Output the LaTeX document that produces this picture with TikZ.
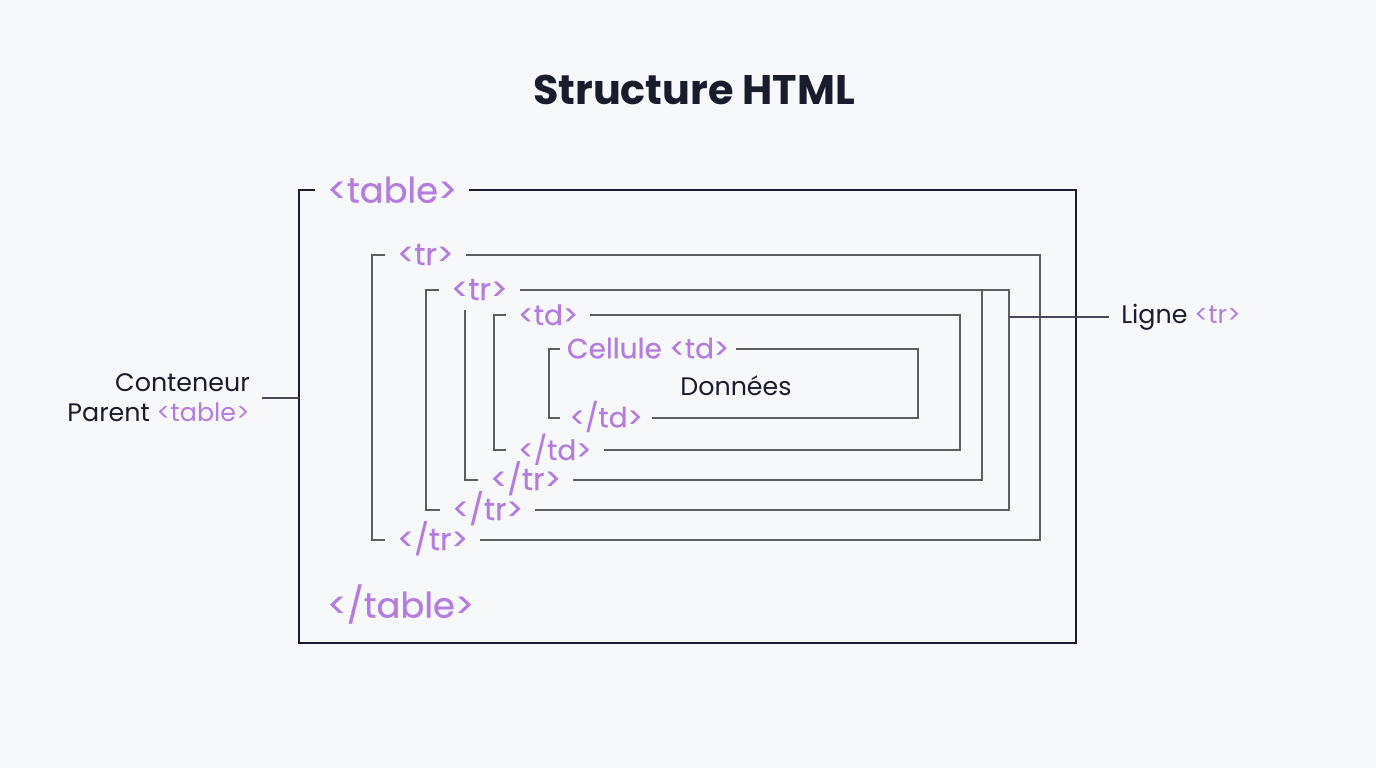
\documentclass[tikz,border=0pt]{standalone}
\usepackage{fontspec}
\setmainfont{Poppins}
\newfontfamily\tagfont[FakeBold=0.5]{Poppins}
\usetikzlibrary{positioning}

\definecolor{pagebg}{RGB}{247,248,249}
\definecolor{inkdark}{RGB}{24,28,44}
\definecolor{tagpurple}{RGB}{180,124,222}
\definecolor{framegray}{RGB}{92,94,100}

\tikzset{
  tag/.style={text=tagpurple, font=\tagfont\fontsize{21}{24}\selectfont, anchor=west,
    inner xsep=9pt, inner ysep=0pt, text height=15pt, text depth=0pt},
  trtag/.style={tag, font=\tagfont\fontsize{23}{26}\selectfont},
  bigtag/.style={tag, font=\tagfont\fontsize{26.5}{30}\selectfont, text height=19pt},
  plain/.style={text=inkdark, font=\fontsize{19}{22.5}\selectfont},
  frame/.style={draw=framegray, line width=0.9pt},
  outerframe/.style={draw=inkdark, line width=1.5pt},
}

\begin{document}
\begin{tikzpicture}[x=0.75pt,y=0.75pt,yscale=-1,xscale=1]
%background, fixes the page size
\fill [pagebg] (0,0) rectangle (1376,768);

% Title
\node [text=inkdark, font=\fontsize{31}{36}\selectfont\bfseries] (title) at (694,90) {Structure HTML};

% Text Nodes (tags)
\node [bigtag] (tabO) at (315,190) {<table>};
\node [bigtag] (tabC) at (315,605) {</table>};
\node [trtag] (trAO) at (385,255) {<tr>};
\node [trtag] (trAC) at (385,540) {</tr>};
\node [trtag] (trBO) at (439,290) {<tr>};
\node [trtag] (trBC) at (440,510) {</tr>};
\node [trtag] (trCC) at (478,480) {</tr>};
\node [tag] (tdAO) at (506,315) {<td>};
\node [tag] (tdAC) at (506,450) {</td>};
\node [tag, inner xsep=5pt, text height=14pt] (cellO) at (560,349) {Cellule <td>};
\node [tag, inner xsep=7pt, text height=14pt] (cellC) at (560,418) {</td>};

% Text Node
\node [plain] (data) at (736,386) {Données};
\node [plain, anchor=east, align=right, inner xsep=9pt] (parent) at (262,398)
  {Conteneur\\Parent \textcolor{tagpurple}{<table>}};
\node [plain, anchor=west, inner xsep=9pt] (ligne) at (1109,317)
  {Ligne \textcolor{tagpurple}{<tr>}};

%Outer frame <table>
\draw [outerframe] (tabO.east) -- (1076,190) -- (1076,643) -- (299,643) -- (299,190) -- (tabO.west);
%Frame <tr> 1
\draw [frame] (trAO.east) -- (1040,255) -- (1040,540) -- (trAC.east);
\draw [frame] (trAO.west) -- (372,255) -- (372,540) -- (trAC.west);
%Frame <tr> 2
\draw [frame] (trBO.east) -- (1009,290) -- (1009,510) -- (trBC.east);
\draw [frame] (trBO.west) -- (426,290) -- (426,510) -- (trBC.west);
%Frame <tr> 3 (no top line)
\draw [frame] (982,290) -- (982,480) -- (trCC.east);
\draw [frame] (465,310) -- (465,480) -- (trCC.west);
%Frame <td>
\draw [frame] (tdAO.east) -- (960,315) -- (960,450) -- (tdAC.east);
\draw [frame] (tdAO.west) -- (494,315) -- (494,450) -- (tdAC.west);
%Frame cell
\draw [frame] (cellO.east) -- (918,349) -- (918,418) -- (cellC.east);
\draw [frame] (cellO.west) -- (549,349) -- (549,418) -- (cellC.west);

%Label connectors
\draw [frame, draw=inkdark!80] (parent.east) -- (299,398);
\draw [frame, draw=inkdark!80] (1009,317) -- (ligne.west);

\end{tikzpicture}
\end{document}
